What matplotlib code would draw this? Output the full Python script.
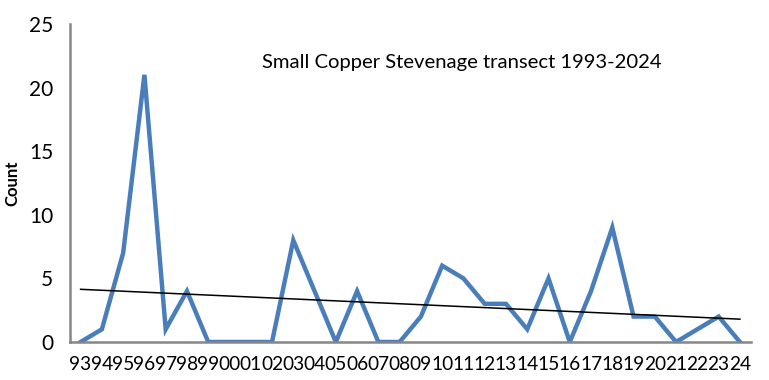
import numpy as np
import matplotlib
matplotlib.use("Agg")
import matplotlib.pyplot as plt

years = ["93", "94", "95", "96", "97", "98", "99", "00", "01", "02", "03", "04",
         "05", "06", "07", "08", "09", "10", "11", "12", "13", "14", "15", "16",
         "17", "18", "19", "20", "21", "22", "23", "24"]
counts = [0, 1, 7, 21, 1, 4, 0, 0, 0, 0, 8, 4,
          0, 4, 0, 0, 2, 6, 5, 3, 3, 1, 5, 0,
          4, 9, 2, 2, 0, 1, 2, 0]

plt.rcParams['font.family'] = ['Lato', 'DejaVu Sans']

x = np.arange(len(years))
fig = plt.figure(figsize=(7.69, 3.80), dpi=100)
ax = fig.add_axes([0.091, 0.1, 0.885, 0.837])

ax.plot(x, counts, c='#4A7EBB', lw=3.2, solid_joinstyle='miter', zorder=2)
# linear trendline
k, b = np.polyfit(x, counts, 1)
ax.plot(x, k * x + b, c='k', lw=1.1, zorder=3)

ax.set_xlim(-0.5, len(years) - 0.5)
ax.set_ylim(0, 25)
ax.set_yticks(range(0, 26, 5))
ax.set_xticks(x)
ax.set_xticklabels(years, fontsize=13.8)
ax.tick_params(axis='y', labelsize=15, length=0, pad=12)
ax.tick_params(axis='x', length=0, pad=10)

for s in ['top', 'right']:
    ax.spines[s].set_visible(False)
for s in ['left', 'bottom']:
    ax.spines[s].set_color('#868686')
    ax.spines[s].set_linewidth(1.8)

ax.set_ylabel('Count', fontsize=12, fontweight='bold', labelpad=6)
ax.text(0.576, 0.88, 'Small Copper Stevenage transect 1993-2024',
        transform=ax.transAxes, ha='center', va='center', fontsize=14.6)

fig.savefig('out.png', dpi=100)
